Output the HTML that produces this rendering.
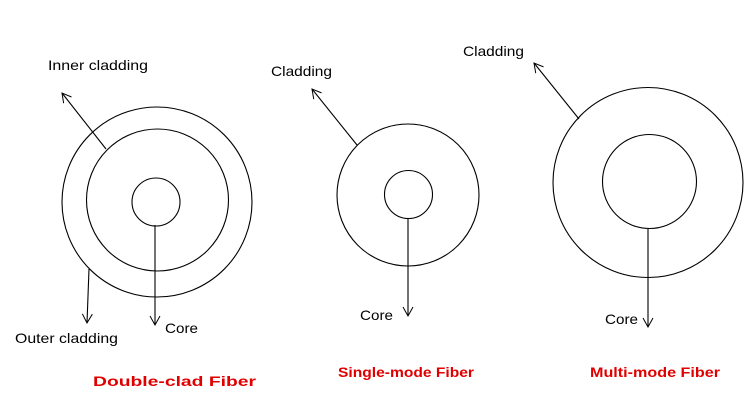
<!DOCTYPE html>
<html><head><meta charset="utf-8"><style>html,body{margin:0;padding:0;background:#fff}svg{display:block}</style></head>
<body>
<svg width="753" height="406" viewBox="0 0 753 406" xmlns="http://www.w3.org/2000/svg">
<defs>
<marker id="a" markerWidth="12" markerHeight="12" refX="10" refY="6" orient="auto" markerUnits="userSpaceOnUse">
<path d="M1,1 L10,6 L1,11" fill="none" stroke="#000" stroke-width="1"/>
</marker>
</defs>
<g fill="none" stroke="#000" stroke-width="1.1">
<circle cx="157" cy="202" r="95"/>
<circle cx="157.5" cy="200" r="71"/>
<circle cx="156" cy="202" r="24"/>
<circle cx="408" cy="195" r="71"/>
<circle cx="408.5" cy="194.5" r="24"/>
<circle cx="648" cy="182.5" r="95"/>
<circle cx="649.5" cy="181.5" r="47"/>
<line x1="106" y1="149" x2="62" y2="93" marker-end="url(#a)"/>
<line x1="89" y1="269" x2="87" y2="323" marker-end="url(#a)"/>
<line x1="155" y1="225" x2="155" y2="325" marker-end="url(#a)"/>
<line x1="357" y1="145" x2="312" y2="89" marker-end="url(#a)"/>
<line x1="408" y1="218" x2="408" y2="316" marker-end="url(#a)"/>
<line x1="579" y1="119" x2="534" y2="63" marker-end="url(#a)"/>
<line x1="648" y1="229" x2="648" y2="327" marker-end="url(#a)"/>
</g>
<g font-family="Liberation Sans, sans-serif" font-size="14" fill="#000">
<text x="48" y="70" textLength="100" lengthAdjust="spacingAndGlyphs">Inner cladding</text>
<text x="15" y="343" textLength="103" lengthAdjust="spacingAndGlyphs">Outer cladding</text>
<text x="165" y="333" textLength="33" lengthAdjust="spacingAndGlyphs">Core</text>
<text x="271" y="76" textLength="61" lengthAdjust="spacingAndGlyphs">Cladding</text>
<text x="360" y="320" textLength="33" lengthAdjust="spacingAndGlyphs">Core</text>
<text x="463" y="56" textLength="61" lengthAdjust="spacingAndGlyphs">Cladding</text>
<text x="605" y="324" textLength="33" lengthAdjust="spacingAndGlyphs">Core</text>
</g>
<g font-family="Liberation Sans, sans-serif" font-size="14" font-weight="bold" fill="#e00000">
<text x="93" y="386" textLength="163" lengthAdjust="spacingAndGlyphs">Double-clad Fiber</text>
<text x="338" y="377" textLength="136" lengthAdjust="spacingAndGlyphs">Single-mode Fiber</text>
<text x="590" y="377" textLength="130" lengthAdjust="spacingAndGlyphs">Multi-mode Fiber</text>
</g>
</svg>
</body></html>
